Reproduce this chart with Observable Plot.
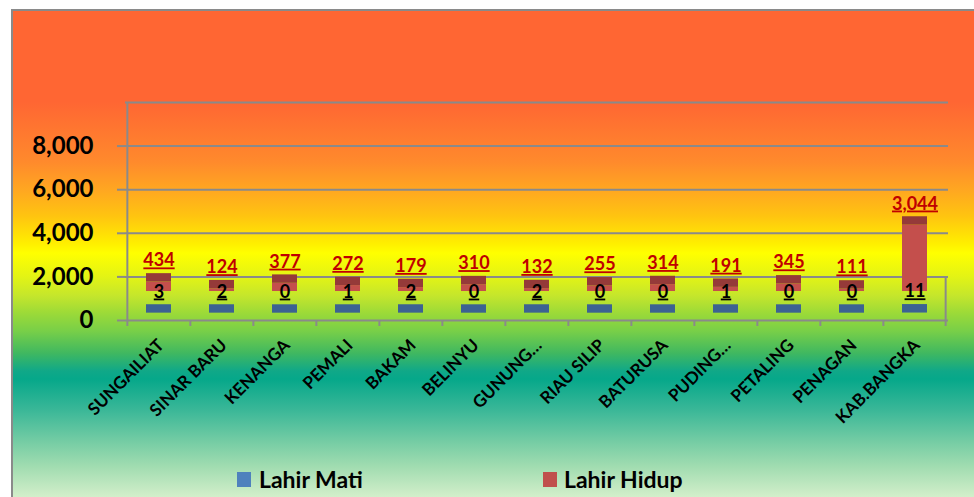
<!DOCTYPE html>
<html>
<head>
<meta charset="utf-8">
<script src="https://cdn.jsdelivr.net/npm/d3@7"></script>
<script src="https://cdn.jsdelivr.net/npm/@observablehq/plot@0.6"></script>
<style>
  html, body { margin: 0; padding: 0; background: white; }
  #wrap { position: relative; width: 974px; height: 497px; overflow: hidden; font-family: Lato, "Open Sans", sans-serif; }
  #bg {
    position: absolute; left: 11px; top: 9px; right: -4px; bottom: -4px;
    border-top: 2px solid #8a8a8a; border-left: 2px solid #8a8a8a;
    background: linear-gradient(to bottom,
      #ff6633 0px, #ff6633 91px, #ff8a2c 151px, #ffa820 180px, #ffc410 205px,
      #ffee00 232px, #ffff00 242px, #e4f414 265px, #c4e62c 285px, #9cda38 302px,
      #78cf48 320px, #40b860 342px, #10a888 360px, #06a88a 368px, #3cb898 400px,
      #74cca4 430px, #a0dcb0 455px, #d6f0cc 488px);
  }
  #chart { position: relative; z-index: 1; }
  #legend { position: relative; z-index: 1; height: 42px; }
  .sw { position: absolute; width: 14px; height: 15px; top: 17px; }
  .lt { position: absolute; top: 11px; font: bold 23px Lato, sans-serif; line-height: 26px; color: #000; white-space: nowrap; }
  g[aria-description="lbl"] text { text-decoration: underline; }
</style>
</head>
<body>
<div id="wrap">
  <div id="bg"></div>
  <div id="chart"></div>
  <div id="legend">
    <div class="sw" style="left:237px;background:#4f81bd"></div>
    <div class="lt" style="left:259px">Lahir Mati</div>
    <div class="sw" style="left:543px;background:#c0504d"></div>
    <div class="lt" style="left:564px">Lahir Hidup</div>
  </div>
</div>
<script>
const categories = ["SUNGAILIAT","SINAR BARU","KENANGA","PEMALI","BAKAM","BELINYU","GUNUNG…","RIAU SILIP","BATURUSA","PUDING…","PETALING","PENAGAN","KAB.BANGKA"];
const lahirMati  = [3, 2, 0, 1, 2, 0, 2, 0, 0, 1, 0, 0, 11];
const lahirHidup = [434, 124, 377, 272, 179, 310, 132, 255, 314, 191, 345, 111, 3044];
const yTicks = [0, 2000, 4000, 6000, 8000];

// layout / 3D-look constants (styling)
const W = 974, H = 455, ML = 125, MR = 26, MT = 102, MB = 135;
const step = (W - ML - MR) / categories.length;
const Y_MAX = 10000;
const BACK_BASE = 1330;   // back row (Lahir Hidup) floor offset
const FRONT_BASE = 335;   // front row (Lahir Mati) floor offset
const TOP = 385;          // depth of the top face
const GRID = "#8a8a8a";

const rows = categories.map((c, i) => ({cat: c, mati: lahirMati[i], hidup: lahirHidup[i]}));
const fmt = d3.format(",");

const chart = Plot.plot({
  width: W, height: H,
  marginLeft: ML, marginRight: MR, marginTop: MT, marginBottom: MB,
  style: {background: "transparent", fontFamily: "Lato, sans-serif", overflow: "visible"},
  x: {type: "band", domain: categories, paddingInner: 0.6, paddingOuter: 0.3, label: null},
  y: {domain: [0, Y_MAX], label: null},
  marks: [
    Plot.ruleY([2000, 4000, 6000, 8000, Y_MAX], {stroke: GRID, strokeWidth: 2}),
    Plot.ruleY([0], {stroke: GRID, strokeWidth: 2}),
    Plot.ruleX([categories[0]], {y1: 0, y2: Y_MAX, dx: -step / 2, stroke: GRID, strokeWidth: 2}),
    Plot.ruleX([categories[categories.length - 1]], {y1: 0, y2: 2000, dx: step / 2 - 1, stroke: GRID, strokeWidth: 2}),
    Plot.axisY(yTicks, {tickSize: 8, tickPadding: 24, fontSize: 24, fontWeight: "bold", tickFormat: fmt, stroke: GRID, strokeWidth: 2, fill: "#000", label: null}),
    Plot.axisX({tickSize: 6, text: null, dx: -step / 2, stroke: GRID, strokeWidth: 2, label: null}),
    Plot.axisX([categories[categories.length - 1]], {tickSize: 6, text: null, dx: step / 2 - 1, stroke: GRID, strokeWidth: 2, label: null}),
    Plot.axisX({tickSize: 0, tickPadding: 22, tickRotate: -45, dx: 2, fontSize: 17, fontWeight: "bold", fill: "#000", label: null}),
    // back row: Lahir Hidup
    Plot.barY(rows, {x: "cat", y1: () => BACK_BASE, y2: d => BACK_BASE + d.hidup, fill: "#c44f4c"}),
    Plot.barY(rows, {x: "cat", y1: d => BACK_BASE + d.hidup, y2: d => BACK_BASE + d.hidup + TOP, fill: "#953a39"}),
    // front row: Lahir Mati
    Plot.barY(rows, {x: "cat", y1: () => FRONT_BASE, y2: d => FRONT_BASE + d.mati, fill: "#4f81bd"}),
    Plot.barY(rows, {x: "cat", y1: d => FRONT_BASE + d.mati, y2: d => FRONT_BASE + d.mati + TOP, fill: "#3c6292"}),
    // labels
    Plot.text(rows, {x: "cat", y: d => BACK_BASE + d.hidup + TOP, dy: -13, text: d => fmt(d.hidup), fill: "#c00000", fontSize: 18, fontWeight: "bold", ariaDescription: "lbl"}),
    Plot.text(rows, {x: "cat", y: d => FRONT_BASE + d.mati + TOP, dy: -13, text: d => fmt(d.mati), fill: "#000", fontSize: 18, fontWeight: "bold", ariaDescription: "lbl"})
  ]
});
document.getElementById("chart").appendChild(chart);
</script>
</body>
</html>
